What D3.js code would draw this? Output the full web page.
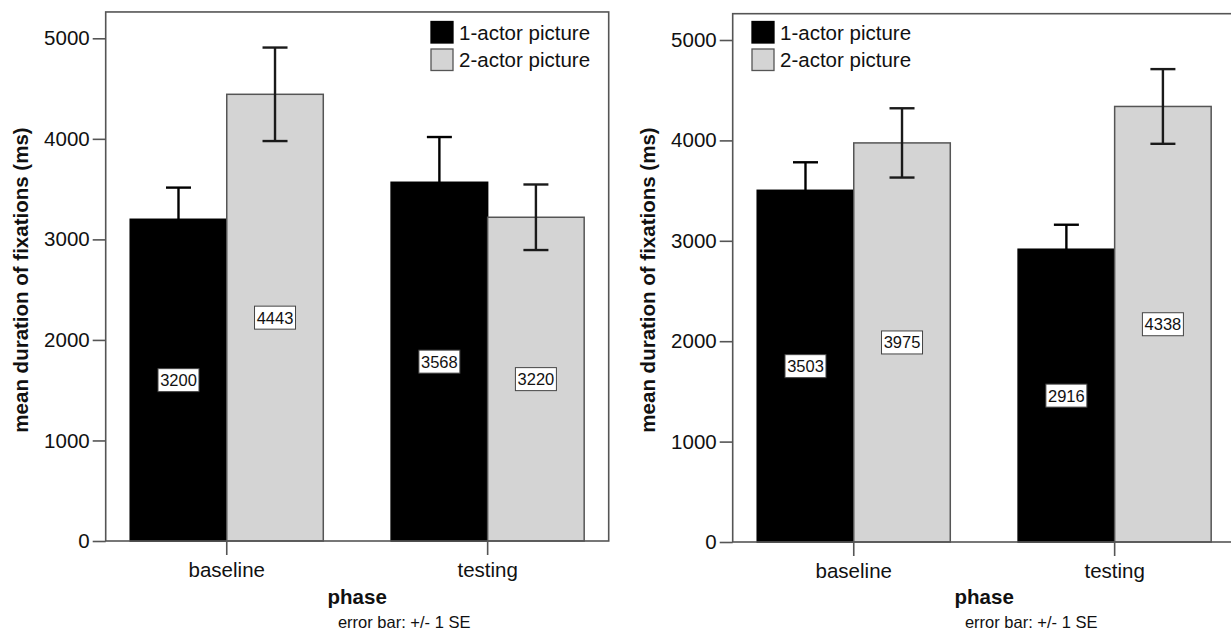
<!DOCTYPE html>
<html>
<head>
<meta charset="utf-8">
<script src="https://cdn.jsdelivr.net/npm/d3@7"></script>
<style>
  body { margin: 0; background: #fff; }
  text { font-family: "Liberation Sans", Arial, sans-serif; fill: #111; }
</style>
</head>
<body>
<div id="chart"></div>
<script>
// Data
const phases = ["baseline", "testing"];
const groups = ["1-actor picture", "2-actor picture"];
const yTicks = [0, 1000, 2000, 3000, 4000, 5000];

// left panel
const leftOneActor = [3200, 3568];
const leftTwoActor = [4443, 3220];
const leftSeOne = [315, 450];
const leftSeTwo = [465, 326];

// right panel
const rightOneActor = [3503, 2916];
const rightTwoActor = [3975, 4338];
const rightSeOne = [279, 244];
const rightSeTwo = [345, 372];

const width = 1231, height = 632;
const colors = { "1-actor picture": "#000", "2-actor picture": "#d4d4d4" };

const svg = d3.select("#chart").append("svg")
  .attr("width", width)
  .attr("height", height);

function drawPanel(cfg) {
  const g = svg.append("g");
  const frameW = 503;

  const y = d3.scaleLinear().domain([0, 5000]).range([cfg.bottom, cfg.y5000]);
  const top = y(5262);

  const x = d3.scaleBand().domain(phases)
    .range([cfg.left, cfg.left + frameW])
    .paddingInner(0.26).paddingOuter(0.094);
  const xs = d3.scaleBand().domain(groups).range([0, x.bandwidth()]);

  const rows = [];
  phases.forEach((p, i) => {
    rows.push({ phase: p, group: groups[0], v: cfg.one[i], se: cfg.seOne[i] });
    rows.push({ phase: p, group: groups[1], v: cfg.two[i], se: cfg.seTwo[i] });
  });

  // bars
  g.selectAll("rect.bar").data(rows).enter().append("rect")
    .attr("class", "bar")
    .attr("x", d => x(d.phase) + xs(d.group))
    .attr("y", d => y(d.v))
    .attr("width", xs.bandwidth())
    .attr("height", d => y(0) - y(d.v))
    .attr("fill", d => colors[d.group])
    .attr("stroke", d => d.group === groups[0] ? "#000" : "#555")
    .attr("stroke-width", 1.5);

  // error bars
  const cx = d => x(d.phase) + xs(d.group) + xs.bandwidth() / 2;
  const eb = g.selectAll("g.err").data(rows).enter().append("g")
    .attr("stroke", d => d.group === groups[0] ? "#000" : "#1a1a1a")
    .attr("stroke-width", 2.4);
  eb.append("line")
    .attr("x1", cx).attr("x2", cx)
    .attr("y1", d => y(d.v - d.se)).attr("y2", d => y(d.v + d.se));
  eb.append("line")
    .attr("x1", d => cx(d) - 12.5).attr("x2", d => cx(d) + 12.5)
    .attr("y1", d => y(d.v + d.se)).attr("y2", d => y(d.v + d.se));
  eb.append("line")
    .attr("x1", d => cx(d) - 12.5).attr("x2", d => cx(d) + 12.5)
    .attr("y1", d => y(d.v - d.se)).attr("y2", d => y(d.v - d.se));

  // value labels in boxes, placed at half the bar
  const lab = g.selectAll("g.lab").data(rows).enter().append("g")
    .attr("transform", d => `translate(${cx(d)},${y(d.v / 2)})`);
  lab.append("rect")
    .attr("x", -20.5).attr("y", -11.5)
    .attr("width", 41).attr("height", 23)
    .attr("fill", "#fff").attr("stroke", "#444").attr("stroke-width", 1);
  lab.append("text")
    .attr("text-anchor", "middle")
    .attr("dy", "0.36em")
    .style("font-size", "16.5px")
    .text(d => d.v);

  // frame
  g.append("rect")
    .attr("x", cfg.left).attr("y", top)
    .attr("width", frameW).attr("height", y(0) - top)
    .attr("fill", "none").attr("stroke", "#555").attr("stroke-width", 1.6);

  // y axis
  const ya = g.append("g")
    .attr("transform", `translate(${cfg.left},0)`)
    .call(d3.axisLeft(y).tickValues(yTicks).tickFormat(d3.format("d"))
      .tickSize(13).tickPadding(3));
  ya.select(".domain").remove();
  ya.selectAll("line").attr("stroke", "#555").attr("stroke-width", 1.6);
  ya.selectAll("text").style("font-size", "20.5px").attr("fill", "#111");

  // x axis
  const xa = g.append("g")
    .attr("transform", `translate(0,${y(0)})`)
    .call(d3.axisBottom(x).tickSize(14).tickPadding(7));
  xa.select(".domain").remove();
  xa.selectAll("line").attr("stroke", "#555").attr("stroke-width", 1.6);
  xa.selectAll("text").style("font-size", "20.5px").attr("fill", "#111");

  // axis titles
  const midX = cfg.left + frameW / 2;
  g.append("text")
    .attr("transform", `translate(${cfg.left - 78},280) rotate(-90)`)
    .attr("text-anchor", "middle")
    .style("font-size", "20.5px").style("font-weight", "bold")
    .text("mean duration of fixations (ms)");
  g.append("text")
    .attr("x", midX).attr("y", 604)
    .attr("text-anchor", "middle")
    .style("font-size", "20.5px").style("font-weight", "bold")
    .text("phase");
  g.append("text")
    .attr("x", midX + 47).attr("y", 628)
    .attr("text-anchor", "middle")
    .style("font-size", "16.5px")
    .text("error bar: +/- 1 SE");

  // legend
  const leg = g.selectAll("g.leg").data(groups).enter().append("g")
    .attr("transform", (d, i) => `translate(${cfg.legendX},${21.5 + i * 27.5})`);
  leg.append("rect")
    .attr("width", 22).attr("height", 21.5)
    .attr("fill", d => colors[d])
    .attr("stroke", d => d === groups[0] ? "#000" : "#555")
    .attr("stroke-width", 1.3);
  leg.append("text")
    .attr("x", 28).attr("y", 11)
    .attr("dy", "0.36em")
    .style("font-size", "20.5px")
    .text(d => d);
}

drawPanel({ left: 105.7, bottom: 541, y5000: 38.3, legendX: 431,
  one: leftOneActor, two: leftTwoActor, seOne: leftSeOne, seTwo: leftSeTwo });
drawPanel({ left: 732.7, bottom: 542, y5000: 40, legendX: 752,
  one: rightOneActor, two: rightTwoActor, seOne: rightSeOne, seTwo: rightSeTwo });
</script>
</body>
</html>
